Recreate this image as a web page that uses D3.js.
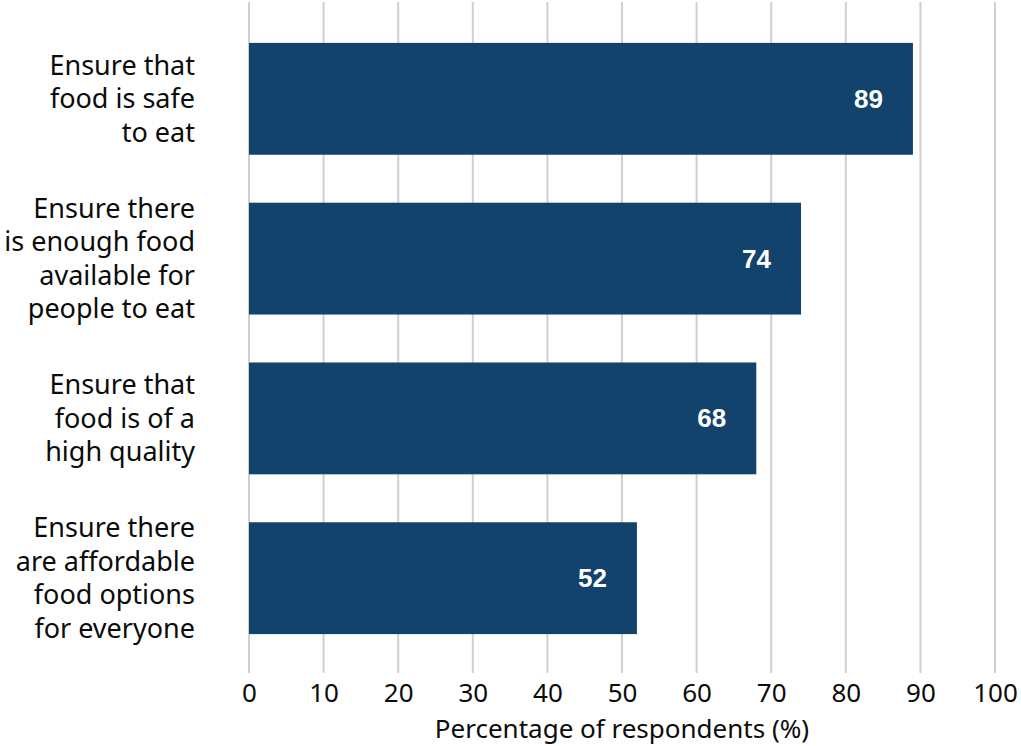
<!DOCTYPE html>
<html><head><meta charset="utf-8">
<script src="https://cdn.jsdelivr.net/npm/d3@7"></script>
<style>body{margin:0;background:#fff}svg{display:block}</style>
</head><body>
<script>
const categories = [
  ["Ensure that", "food is safe", "to eat"],
  ["Ensure there", "is enough food", "available for", "people to eat"],
  ["Ensure that", "food is of a", "high quality"],
  ["Ensure there", "are affordable", "food options", "for everyone"]
];
const values = [89, 74, 68, 52];
const xTicks = [0,10,20,30,40,50,60,70,80,90,100];
const xTitle = "Percentage of respondents (%)";

const W = 1021, H = 746;
const svg = d3.select("body").append("svg").attr("width", W).attr("height", H);
const font = "'Noto Sans', sans-serif";

const x = d3.scaleLinear().domain([0,100]).range([249, 995]);
const y = d3.scaleBand().domain(d3.range(values.length)).range([2, 675]).paddingInner(0.3).paddingOuter(0.256);

// gridlines
svg.append("g").selectAll("line").data(xTicks).join("line")
  .attr("x1", d => x(d)).attr("x2", d => x(d))
  .attr("y1", 2).attr("y2", 673)
  .attr("stroke", "#d0d0d0").attr("stroke-width", 2);

// bars
svg.append("g").selectAll("rect").data(values).join("rect")
  .attr("x", x(0)).attr("y", (d,i) => y(i))
  .attr("width", d => x(d) - x(0)).attr("height", y.bandwidth())
  .attr("fill", "#12436d");

// value labels
svg.append("g").selectAll("text").data(values).join("text")
  .attr("x", d => x(d) - 30).attr("y", (d,i) => y(i) + y.bandwidth()/2)
  .attr("dy", "0.35em").attr("text-anchor", "end")
  .attr("fill", "#fff").attr("font-family", "'Liberation Sans', Arial, sans-serif")
  .attr("font-weight", "bold").attr("font-size", 26)
  .text(d => d);

// category labels
const cat = svg.append("g").selectAll("text").data(categories).join("text")
  .attr("text-anchor", "end").attr("font-family", font).attr("font-size", 27)
  .attr("fill", "#0b0c0c");
cat.each(function(lines, i){
  const t = d3.select(this);
  const cy = y(i) + y.bandwidth()/2;
  const lh = 33.5;
  const start = cy - (lines.length - 1) * lh / 2;
  lines.forEach((l, j) => {
    t.append("tspan").attr("x", 195).attr("y", start + j*lh).attr("dy", "0.35em").text(l);
  });
});

// x axis tick labels
const xAxis = d3.axisBottom(x).tickValues(xTicks).tickSize(0).tickPadding(0);
const gx = svg.append("g").attr("transform", "translate(0,702)").call(xAxis);
gx.select(".domain").remove();
gx.selectAll("text").attr("font-family", font).attr("font-size", 26).attr("fill", "#0b0c0c").attr("dy", "0");

svg.append("text").attr("x", (x(0)+x(100))/2).attr("y", 738)
  .attr("text-anchor", "middle").attr("font-family", font).attr("font-size", 26)
  .attr("fill", "#0b0c0c").text(xTitle);
</script>
</body></html>
